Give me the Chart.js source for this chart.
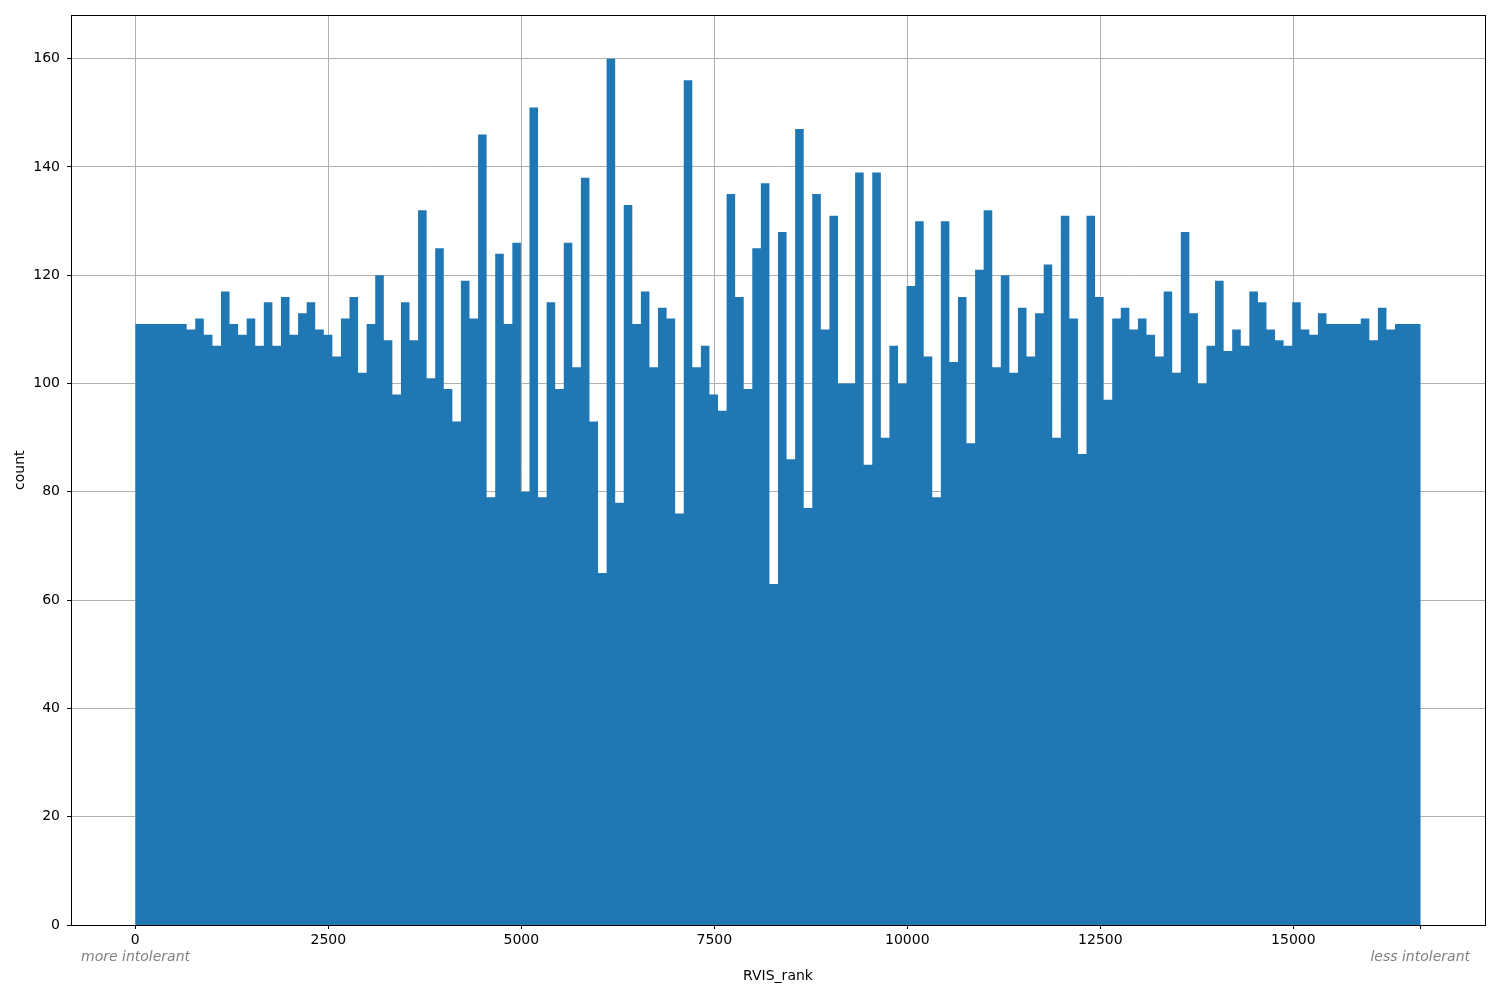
<!DOCTYPE html>
<html>
<head>
<meta charset="utf-8">
<script src="https://cdn.jsdelivr.net/npm/chart.js@4.4.1/dist/chart.umd.min.js"></script>
<style>
html,body{margin:0;padding:0;background:#ffffff;}
#wrap{width:1500px;height:1000px;}
</style>
</head>
<body>
<div id="wrap"><canvas id="c" width="1500" height="1000"></canvas></div>
<script>
// Histogram of RVIS_rank: 150 bins between rankMin and rankMax
const counts = [
  111,111,111,111,111,111,110,112,109,107,
  117,111,109,112,107,115,107,116,109,113,
  115,110,109,105,112,116,102,111,120,108,
  98,115,108,132,101,125,99,93,119,112,
  146,79,124,111,126,80,151,79,115,99,
  126,103,138,93,65,160,78,133,111,117,
  103,114,112,76,156,103,107,98,95,135,
  116,99,125,137,63,128,86,147,77,135,
  110,131,100,100,139,85,139,90,107,100,
  118,130,105,79,130,104,116,89,121,132,
  103,120,102,114,105,113,122,90,131,112,
  87,131,116,97,112,114,110,112,109,105,
  117,102,128,113,100,107,119,106,110,107,
  117,115,110,108,107,115,110,109,113,111,
  111,111,111,112,108,114,110,111,111,111
];
const rankMin = 0;
const rankMax = 16650;
const xTicks = [0, 2500, 5000, 7500, 10000, 12500, 15000, 16650];
const xTickLabels = ['0', '2500', '5000', '7500', '10000', '12500', '15000', ''];
const yTicks = [0, 20, 40, 60, 80, 100, 120, 140, 160];
const yTickLabels = ['0', '20', '40', '60', '80', '100', '120', '140', '160'];
const xTitle = 'RVIS_rank';
const yTitle = 'count';
const leftNote = 'more intolerant';
const rightNote = 'less intolerant';

const binW = (rankMax - rankMin) / counts.length;
const stepPoints = counts.map((c, i) => ({x: rankMin + i * binW, y: c}));
stepPoints.push({x: rankMax, y: counts[counts.length - 1]});

const span = rankMax - rankMin;
const FONT = "'DejaVu Sans', sans-serif";

const framePlugin = {
  id: 'frame',
  afterDraw(chart) {
    const {ctx, chartArea: a} = chart;
    ctx.save();
    ctx.strokeStyle = '#000000';
    ctx.lineWidth = 1;
    ctx.strokeRect(Math.round(a.left) + 0.5, Math.round(a.top) + 0.5,
                   Math.round(a.right - a.left) - 1 + 1, Math.round(a.bottom - a.top));
    ctx.fillStyle = '#808080';
    ctx.font = "italic 14px 'DejaVu Sans', sans-serif";
    ctx.textBaseline = 'middle';
    ctx.textAlign = 'left';
    ctx.fillText(leftNote, a.left + 10, 957);
    ctx.textAlign = 'right';
    ctx.fillText(rightNote, a.right - 15, 957);
    ctx.restore();
  }
};

new Chart(document.getElementById('c'), {
  type: 'line',
  data: {
    datasets: [{
      data: stepPoints,
      stepped: 'before',
      fill: 'origin',
      backgroundColor: '#1f77b4',
      borderColor: 'rgba(0,0,0,0)',
      borderWidth: 0,
      pointRadius: 0,
      pointHoverRadius: 0,
      tension: 0
    }]
  },
  options: {
    responsive: false,
    animation: false,
    devicePixelRatio: 1,
    events: [],
    layout: {padding: {top: 15, right: 15, left: 0, bottom: 0}},
    plugins: {legend: {display: false}, tooltip: {enabled: false}},
    scales: {
      x: {
        type: 'linear',
        min: rankMin - 0.05 * span,
        max: rankMax + 0.05 * span,
        z: 1,
        afterFit(scale) { scale.height = 75; },
        afterBuildTicks(scale) { scale.ticks = xTicks.map(v => ({value: v})); },
        ticks: {
          autoSkip: false,
          maxRotation: 0,
          color: '#000000',
          padding: 3,
          font: {family: FONT, size: 14},
          callback: (v, i) => xTickLabels[i]
        },
        grid: {
          color: (ctx) => (ctx.tick && ctx.tick.value === rankMax) ? 'rgba(0,0,0,0)' : '#b0b0b0',
          lineWidth: 1,
          tickColor: '#000000',
          tickLength: 4,
          drawTicks: true
        },
        border: {display: true, color: '#000000', width: 1},
        title: {
          display: true,
          text: xTitle,
          color: '#000000',
          font: {family: FONT, size: 14},
          padding: {top: 0, bottom: 15}
        }
      },
      y: {
        type: 'linear',
        min: 0,
        max: 168,
        z: 1,
        afterFit(scale) { scale.width = 71; },
        afterBuildTicks(scale) { scale.ticks = yTicks.map(v => ({value: v})); },
        ticks: {
          color: '#000000',
          padding: 7,
          font: {family: FONT, size: 14},
          callback: (v, i) => yTickLabels[i]
        },
        grid: {
          color: '#b0b0b0',
          lineWidth: 1,
          tickColor: '#000000',
          tickLength: 4
        },
        border: {display: true, color: '#000000', width: 1},
        title: {
          display: true,
          text: yTitle,
          color: '#000000',
          font: {family: FONT, size: 14},
          padding: {top: 12, bottom: 0}
        }
      }
    }
  },
  plugins: [framePlugin]
});
</script>
</body>
</html>
